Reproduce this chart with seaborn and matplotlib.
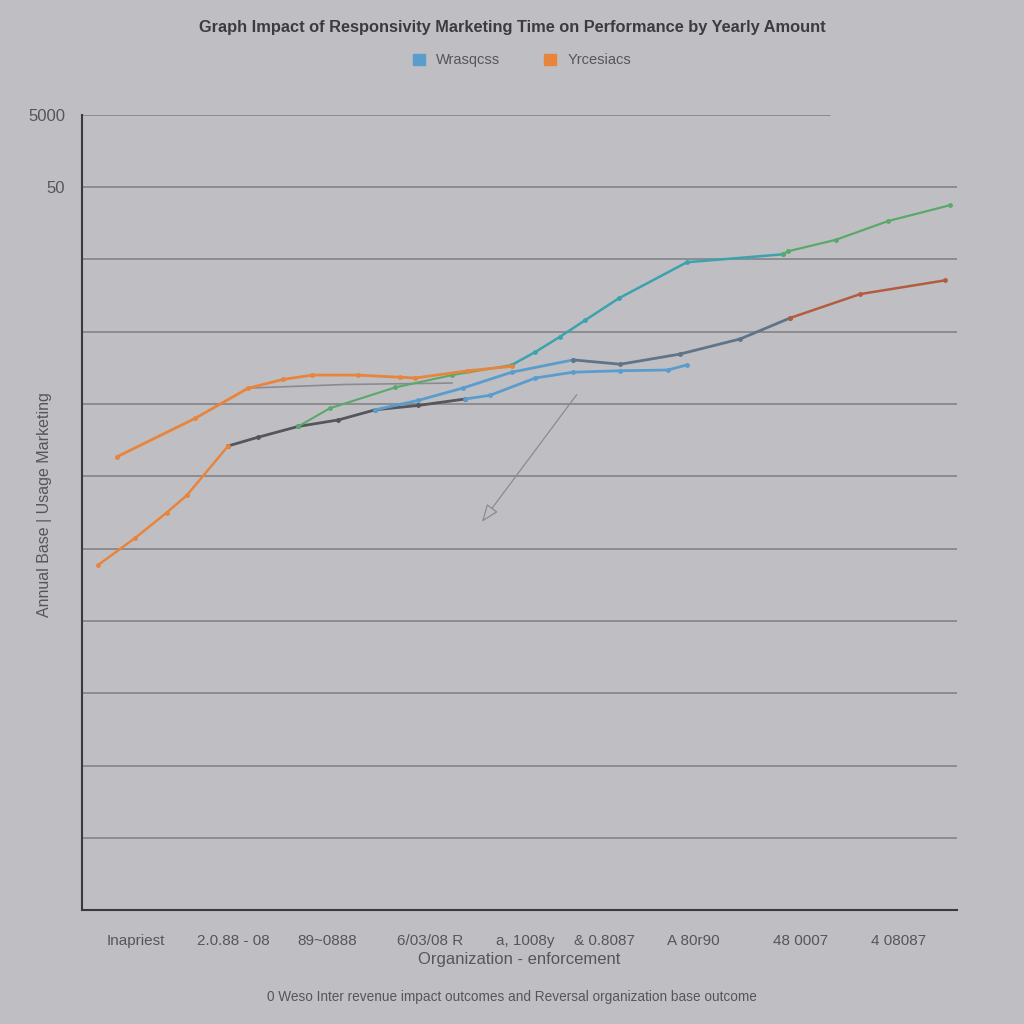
import matplotlib
matplotlib.use("Agg")
import matplotlib.pyplot as plt
import matplotlib.patches as mpatches
import seaborn as sns
import pandas as pd

# ---------------- data ----------------
x_ticks = [6.1, 17.3, 28.0, 39.8, 50.6, 59.7, 69.8, 82.1, 93.3]
x_tick_labels = ["Inapriest", "2.0.88 - 08", "89~0888", "6/03/08 R", "a, 1008y",
                 "& 0.8087", "A 80r90", "48 0007", "4 08087"]
y_ticks = [1, 2, 3, 4, 5, 6, 7, 8, 9, 10, 11]
y_tick_labels = ["", "", "", "", "", "", "", "", "", "50", "5000"]

orange_a_x = [4.0, 12.9, 19.0, 23.0, 26.3, 31.5, 36.3, 38.1, 44.1, 49.1]
orange_a_y = [6.27, 6.80, 7.22, 7.34, 7.40, 7.40, 7.37, 7.36, 7.46, 7.52]

orange_b_x = [1.8, 6.1, 9.7, 12.0, 16.7]
orange_b_y = [4.77, 5.15, 5.50, 5.74, 6.42]

gray_x = [16.7, 20.1, 24.7, 29.3, 33.5, 38.4, 43.8]
gray_y = [6.42, 6.54, 6.69, 6.78, 6.92, 6.98, 7.07]

blue_low_x = [43.8, 46.6, 51.8, 56.1, 61.5, 66.9, 69.1]
blue_low_y = [7.07, 7.12, 7.36, 7.44, 7.46, 7.47, 7.54]

mid_blue_x = [33.5, 38.4, 43.5, 49.1, 56.1]
mid_blue_y = [6.92, 7.05, 7.22, 7.44, 7.61]
mid_slate_x = [56.1, 61.5, 68.3, 75.2, 80.9]
mid_slate_y = [7.61, 7.55, 7.69, 7.90, 8.19]
mid_red_x = [80.9, 88.9, 98.6]
mid_red_y = [8.19, 8.52, 8.71]

green_a_x = [24.7, 28.3, 35.8, 42.3, 49.1]
green_a_y = [6.69, 6.94, 7.23, 7.40, 7.54]
teal_x = [49.1, 51.8, 54.6, 57.5, 61.3, 69.1, 80.1]
teal_y = [7.54, 7.72, 7.93, 8.16, 8.46, 8.96, 9.07]
green_b_x = [80.1, 80.6, 86.1, 92.1, 99.2]
green_b_y = [9.07, 9.11, 9.27, 9.53, 9.75]

ref_x = [19.0, 30.0, 42.3]
ref_y = [7.22, 7.27, 7.29]

legend_labels = ["Wrasqcss", "Yrcesiacs"]

# ---------------- style ----------------
BG = "#bfbfc3"
sns.set_theme(style="white")
plt.rcParams["font.family"] = ["Liberation Sans", "DejaVu Sans"]

fig = plt.figure(figsize=(10.24, 10.24), dpi=100, facecolor=BG)
ax = fig.add_axes([0.080, 0.111, 0.855, 0.777])
ax.set_facecolor(BG)

C_OR = "#e8843c"
C_BL = "#5a9ccc"
C_GR = "#5aa86a"
C_TE = "#3aa3ad"
C_GY = "#55565c"
C_SL = "#5f7488"
C_RD = "#b35c40"


def draw(xs, ys, color, lw=1.8, ms=3.5):
    df = pd.DataFrame({"x": xs, "y": ys})
    sns.lineplot(data=df, x="x", y="y", ax=ax, color=color, lw=lw,
                 marker="o", markersize=ms, markeredgewidth=0, sort=False)


draw(ref_x, ref_y, "#8c8a90", lw=1.2, ms=0)
draw(gray_x, gray_y, C_GY, lw=2.0)
draw(blue_low_x, blue_low_y, C_BL, lw=2.0)
draw(mid_blue_x, mid_blue_y, C_BL, lw=2.0)
draw(mid_slate_x, mid_slate_y, C_SL, lw=2.0)
draw(mid_red_x, mid_red_y, C_RD, lw=1.8)
draw(green_a_x, green_a_y, C_GR, lw=1.5)
draw(teal_x, teal_y, C_TE, lw=1.8)
draw(green_b_x, green_b_y, C_GR, lw=1.6)
draw(orange_b_x, orange_b_y, C_OR, lw=1.8)
draw(orange_a_x, orange_a_y, C_OR, lw=2.0)

# arrow annotation
ax.annotate("", xy=(45.5, 5.34), xytext=(56.7, 7.16),
            arrowprops=dict(arrowstyle="-|>,head_length=0.9,head_width=0.35",
                            color="#8a8a90", lw=0.9, fc=BG))

ax.set_xlim(0, 100)
ax.set_ylim(0, 11)

# gridlines
for t in y_ticks[:-1]:
    ax.axhline(t, color="#82828a", lw=1.2, zorder=0)
ax.axhline(11, xmin=0, xmax=0.855, color="#82828a", lw=1.2, zorder=0)

ax.set_xticks(x_ticks)
ax.set_xticklabels(x_tick_labels, fontsize=11, color="#55555a")
ax.set_yticks(y_ticks)
ax.set_yticklabels(y_tick_labels, fontsize=12, color="#55555a")
ax.tick_params(axis="x", direction="out", length=12, width=1.0, color="#555", pad=5)
ax.tick_params(axis="y", length=0, pad=12)

for s in ["top", "right"]:
    ax.spines[s].set_visible(False)
for s in ["left", "bottom"]:
    ax.spines[s].set_color("#3a3a3e")
    ax.spines[s].set_linewidth(1.5)

ax.set_xlabel("Organization - enforcement", fontsize=12, color="#55555a", labelpad=3)
ax.set_ylabel("Annual Base | Usage Marketing", fontsize=11.5, color="#55555a")
ax.yaxis.set_label_coords(-0.034, 0.51)

fig.text(0.5, 0.973,
         "Graph Impact of Responsivity Marketing Time on Performance by Yearly Amount",
         ha="center", va="center", fontsize=11.8, fontweight="bold", color="#3c3c40")

handles = [mpatches.Patch(color=C_BL), mpatches.Patch(color=C_OR)]
fig.legend(handles, legend_labels, loc="center", bbox_to_anchor=(0.51, 0.941), ncol=2,
           frameon=False, fontsize=10.5, handlelength=0.8, handleheight=0.8,
           columnspacing=3.0, labelcolor="#55555a")

fig.text(0.5, 0.026,
         "0 Weso Inter revenue impact outcomes and Reversal organization base outcome",
         ha="center", va="center", fontsize=9.8, color="#55555a")

fig.savefig("out.png", dpi=100, facecolor=BG)
